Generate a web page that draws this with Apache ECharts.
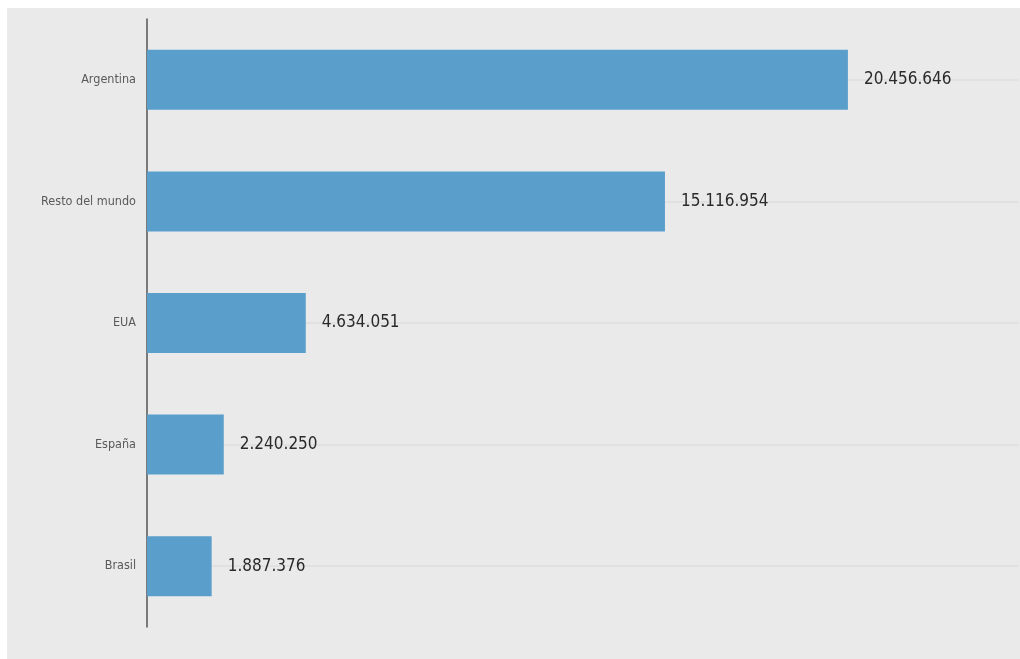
<!DOCTYPE html>
<html>
<head>
<meta charset="utf-8">
<script src="https://cdn.jsdelivr.net/npm/echarts@6/dist/echarts.min.js"></script>
<style>
  html, body { margin: 0; padding: 0; background: #fff; }
  #chart { width: 1020px; height: 659px; }
</style>
</head>
<body>
<div id="chart"></div>
<script>
  var paises = ['Argentina', 'Resto del mundo', 'EUA', 'España', 'Brasil'];
  var valores = [20456646, 15116954, 4634051, 2240250, 1887376];

  var fuente = '"Liberation Sans Narrow", "DejaVu Sans Condensed", sans-serif';

  // 20456646 -> 20.456.646
  function conPuntos(v) {
    return String(v).replace(/\B(?=(\d{3})+(?!\d))/g, '.');
  }

  var chart = echarts.init(document.getElementById('chart'));
  var option = {
    backgroundColor: '#ffffff',
    animation: false,
    graphic: [{
      type: 'rect',
      z: -10,
      silent: true,
      shape: { x: 7, y: 8, width: 1013, height: 651 },
      style: { fill: '#eaeaea' }
    }],
    grid: { left: 147, right: 1, top: 19, bottom: 32, containLabel: false },
    xAxis: {
      type: 'value',
      min: 0,
      max: 25450000,
      show: true,
      axisLine: { show: false },
      axisTick: { show: false },
      axisLabel: { show: false },
      splitLine: { show: false }
    },
    yAxis: {
      type: 'category',
      inverse: true,
      data: paises,
      axisLine: { show: true, lineStyle: { color: '#555', width: 1.5 } },
      axisTick: { show: false, alignWithLabel: true },
      axisLabel: {
        margin: 11,
        fontFamily: fuente,
        fontSize: 12.5,
        color: '#5a5a5a'
      },
      splitLine: {
        show: true,
        alignWithLabel: true,
        lineStyle: { color: '#e1e1e1', width: 2 }
      }
    },
    series: [{
      type: 'bar',
      data: valores,
      barWidth: 60,
      itemStyle: { color: '#5a9fcc' },
      label: {
        show: true,
        position: 'right',
        distance: 16,
        fontFamily: fuente,
        fontSize: 17,
        color: '#2a2a2a',
        formatter: function(p) { return conPuntos(p.value); }
      }
    }]
  };
  chart.setOption(option);
</script>
</body>
</html>
